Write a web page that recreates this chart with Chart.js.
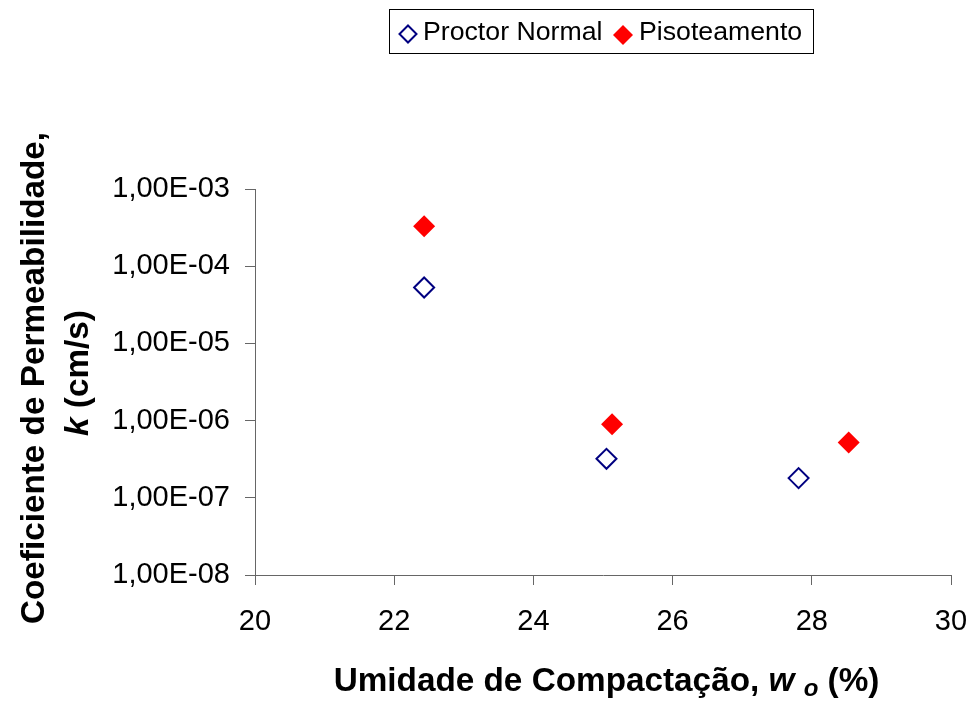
<!DOCTYPE html>
<html>
<head>
<meta charset="utf-8">
<script src="https://cdn.jsdelivr.net/npm/chart.js@4"></script>
<style>
  html, body { margin: 0; padding: 0; background: #fff; }
  #wrap { width: 976px; height: 705px; }
</style>
</head>
<body>
<div id="wrap"><canvas id="c" width="976" height="705"></canvas></div>
<script>
// ---- data ----
const seriesNames = ['Proctor Normal', 'Pisoteamento'];
const proctorMoisture = [22.43, 25.05, 27.81];
const proctorK = [5.3e-5, 3.2e-7, 1.8e-7];
const pisoMoisture = [22.43, 25.13, 28.53];
const pisoK = [3.3e-4, 9.0e-7, 5.2e-7];
const xTicks = [20, 22, 24, 26, 28, 30];
const yTicks = [1e-8, 1e-7, 1e-6, 1e-5, 1e-4, 1e-3];
const yTickLabels = ['1,00E-08', '1,00E-07', '1,00E-06', '1,00E-05', '1,00E-04', '1,00E-03'];
const xTitle = ['Umidade de Compactação, ', 'w', 'o', ' (%)'];
const yTitle = ['Coeficiente de Permeabilidade,', 'k', ' (cm/s)'];

const FONT = '"Liberation Sans", Arial, sans-serif';

function pts(xs, ys) { return xs.map((x, i) => ({ x: x, y: ys[i] })); }

function diamond(ctx, x, y, r) {
  ctx.beginPath();
  ctx.moveTo(x, y - r); ctx.lineTo(x + r, y); ctx.lineTo(x, y + r); ctx.lineTo(x - r, y);
  ctx.closePath();
}

const annotations = {
  id: 'annotations',
  afterDraw(chart) {
    const ctx = chart.ctx;
    const area = chart.chartArea;
    ctx.save();
    // ---- legend box ----
    ctx.strokeStyle = '#000';
    ctx.lineWidth = 1;
    ctx.strokeRect(389.5, 9.5, 424, 44);
    ctx.font = '26.7px ' + FONT;
    ctx.fillStyle = '#000';
    ctx.textBaseline = 'alphabetic';
    ctx.textAlign = 'left';
    const ds = chart.data.datasets;
    // proctor
    diamond(ctx, 408, 34, 8.5);
    ctx.fillStyle = '#fff'; ctx.fill();
    ctx.lineWidth = 2; ctx.strokeStyle = ds[0].borderColor; ctx.stroke();
    ctx.fillStyle = '#000';
    ctx.fillText(ds[0].label, 423, 39.5);
    // piso
    diamond(ctx, 623, 35, 10);
    ctx.fillStyle = ds[1].backgroundColor; ctx.fill();
    ctx.fillStyle = '#000';
    ctx.fillText(ds[1].label, 639, 39.5);

    // ---- x title ----
    const big = 'bold 33.3px ' + FONT;
    const bigI = 'italic bold 33.3px ' + FONT;
    const smallI = 'italic bold 24px ' + FONT;
    ctx.font = big; const w0 = ctx.measureText(xTitle[0]).width;
    ctx.font = bigI; const w1 = ctx.measureText(xTitle[1]).width;
    ctx.font = big; const wsp = ctx.measureText(' ').width;
    ctx.font = smallI; const w2 = ctx.measureText(xTitle[2]).width;
    ctx.font = big; const w3 = ctx.measureText(xTitle[3]).width;
    const total = w0 + w1 + wsp + w2 + w3;
    let x = 606.5 - total / 2;
    const yb = 691;
    ctx.font = big; ctx.fillText(xTitle[0], x, yb); x += w0;
    ctx.font = bigI; ctx.fillText(xTitle[1], x, yb); x += w1 + wsp;
    ctx.font = smallI; ctx.fillText(xTitle[2], x, yb + 5); x += w2;
    ctx.font = big; ctx.fillText(xTitle[3], x, yb);

    // ---- y title (rotated) ----
    const cy = 378;
    ctx.save();
    ctx.translate(44, cy);
    ctx.rotate(-Math.PI / 2);
    ctx.font = big; ctx.textAlign = 'center';
    ctx.fillText(yTitle[0], 0, 0);
    ctx.restore();
    ctx.save();
    ctx.translate(88, cy - 5);
    ctx.rotate(-Math.PI / 2);
    ctx.font = bigI; const k1 = ctx.measureText(yTitle[1]).width;
    ctx.font = big; const k2 = ctx.measureText(yTitle[2]).width;
    let xx = -(k1 + k2) / 2;
    ctx.textAlign = 'left';
    ctx.font = bigI; ctx.fillText(yTitle[1], xx, 0); xx += k1;
    ctx.font = big; ctx.fillText(yTitle[2], xx, 0);
    ctx.restore();
    ctx.restore();
  }
};

new Chart(document.getElementById('c'), {
  type: 'scatter',
  data: {
    datasets: [
      {
        label: seriesNames[0],
        data: pts(proctorMoisture, proctorK),
        pointStyle: 'rectRot',
        pointRadius: 10,
        pointHoverRadius: 10,
        backgroundColor: '#ffffff',
        borderColor: '#000080',
        borderWidth: 2
      },
      {
        label: seriesNames[1],
        data: pts(pisoMoisture, pisoK),
        pointStyle: 'rectRot',
        pointRadius: 11,
        pointHoverRadius: 11,
        backgroundColor: '#ff0000',
        borderColor: '#ff0000',
        borderWidth: 0
      }
    ]
  },
  options: {
    responsive: false,
    animation: false,
    devicePixelRatio: 1,
    layout: { padding: { top: 189, right: 25, left: 0, bottom: 0 } },
    plugins: { legend: { display: false }, tooltip: { enabled: false }, title: { display: false } },
    scales: {
      x: {
        type: 'linear',
        min: 20, max: 30,
        afterBuildTicks(scale) { scale.ticks = xTicks.map(v => ({ value: v })); },
        afterFit(scale) { scale.height = 130; scale.paddingLeft = 0; scale.paddingRight = 0; },
        grid: { drawOnChartArea: false, drawTicks: true, tickLength: 10, color: '#666', tickWidth: 1 },
        border: { display: true, color: '#666', width: 1 },
        ticks: { font: { family: FONT, size: 29 }, color: '#000', padding: 20, maxRotation: 0 }
      },
      y: {
        type: 'logarithmic',
        min: 1e-8, max: 1e-3,
        afterBuildTicks(scale) { scale.ticks = yTicks.map(v => ({ value: v })); },
        afterFit(scale) { scale.width = 255; },
        grid: { drawOnChartArea: false, drawTicks: true, tickLength: 10, color: '#666', tickWidth: 1 },
        border: { display: true, color: '#666', width: 1 },
        ticks: {
          font: { family: FONT, size: 29 }, color: '#000', padding: 15,
          callback(value) { const i = yTicks.findIndex(t => Math.abs(Math.log10(t) - Math.log10(value)) < 1e-6); return i >= 0 ? yTickLabels[i] : ''; }
        }
      }
    }
  },
  plugins: [annotations]
});
</script>
</body>
</html>
